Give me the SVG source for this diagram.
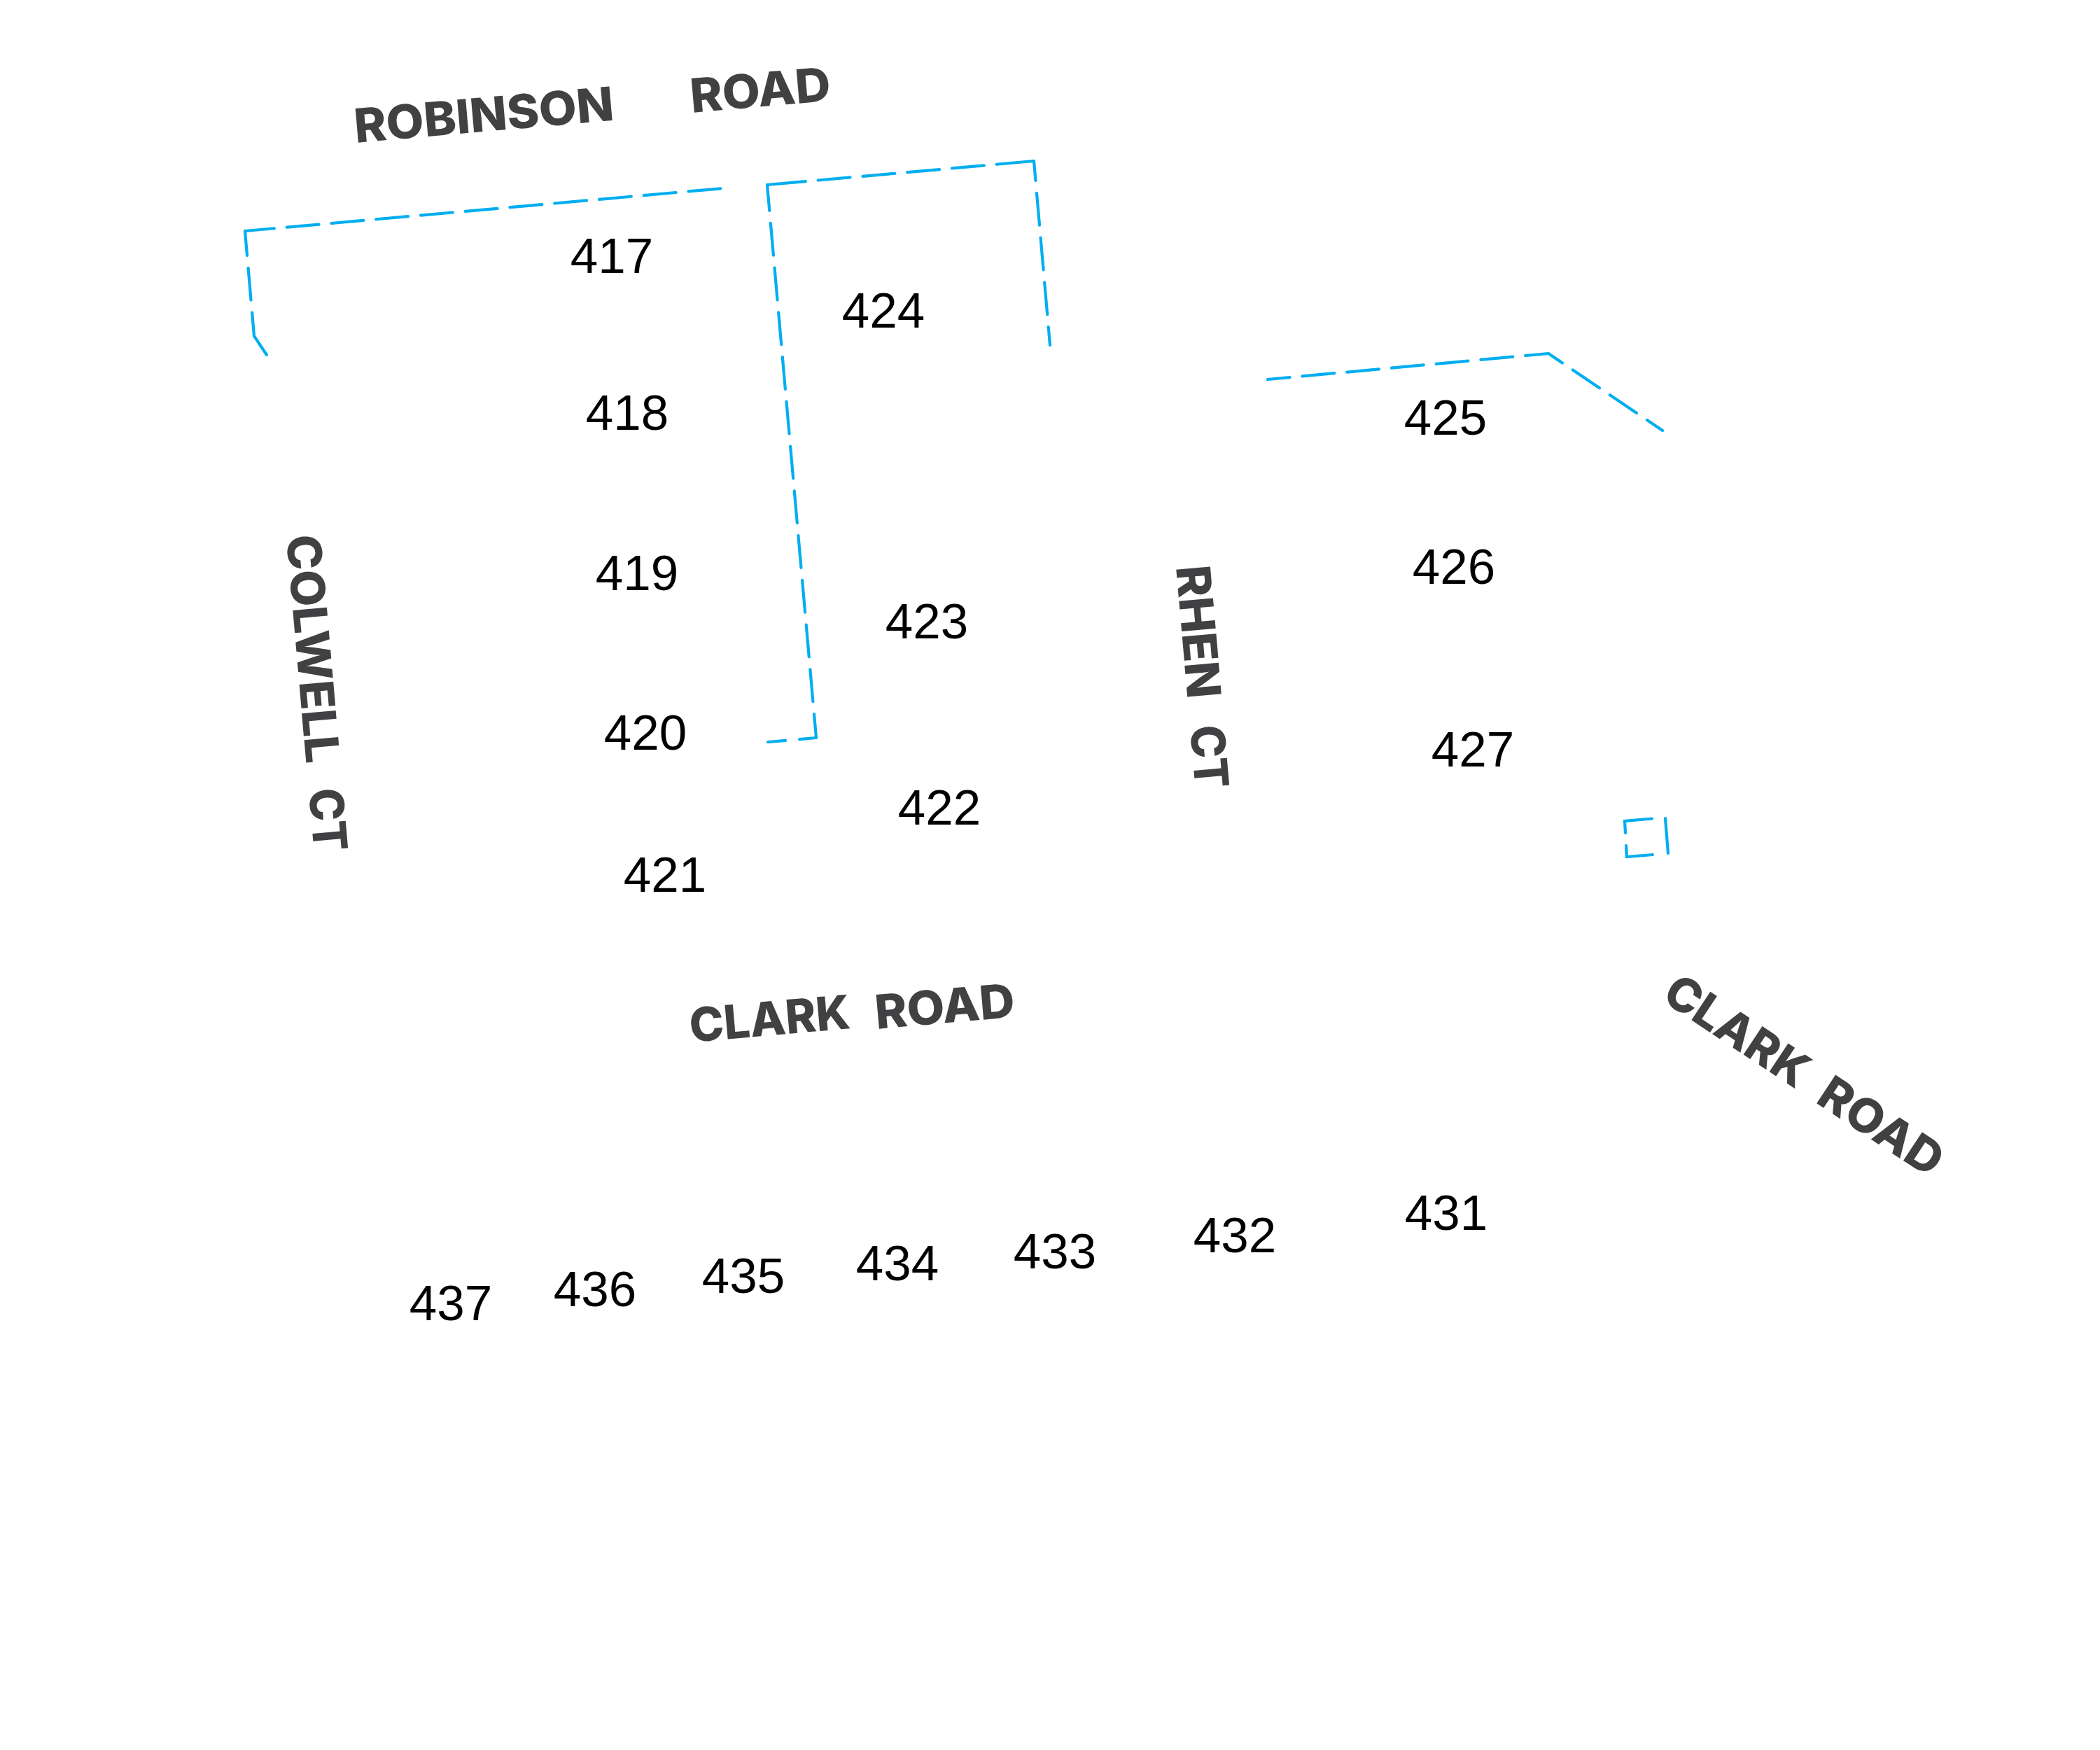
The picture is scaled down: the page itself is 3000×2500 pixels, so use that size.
<svg xmlns="http://www.w3.org/2000/svg" width="3000" height="2500" viewBox="0 0 3000 2500">
<style>
.lot{font-family:"Liberation Sans",Arial,sans-serif;font-size:71px;fill:#000;text-anchor:middle}
.road{font-family:Inter,"Liberation Sans",sans-serif;font-weight:800;font-size:67px;fill:#414042}
.l{fill:none;stroke:#00aeef;stroke-width:4.2;stroke-linecap:round;stroke-linejoin:miter}
</style>
<rect width="3000" height="2500" fill="#fff"/>
<g id="connectors">
<path class="l" stroke-dasharray="46 18" stroke-dashoffset="4" d="M350 330L1033 269"/>
<path class="l" stroke-dasharray="35 18 46 18 200" d="M350 330L363 480L381 507"/>
<path class="l" stroke-dasharray="55 18 46 18 46 18 46 18 46 18 55" d="M1096 264L1477 230"/>
<path class="l" stroke-dasharray="28 18 46 18 46 18 46 18 28" d="M1477 230L1500 493"/>
<path class="l" stroke-dasharray="46 18" stroke-dashoffset="9" d="M1096 264L1166 1054"/>
<path class="l" stroke-dasharray="24 20 26" d="M1166 1054L1097 1060"/>
<path class="l" stroke-dasharray="46 18" stroke-dashoffset="13" d="M2212 505L1811 542"/>
<path class="l" stroke-dasharray="46 18" stroke-dashoffset="22" d="M2212 505L2375 615"/>
<path class="l" d="M2360 1169.500L2321 1173L2322 1190M2323 1208L2324 1224L2361 1221M2379 1169L2383 1219"/>
</g>
<g id="lots">
<text id="lot-417" class="lot" x="874" y="390">417</text>
<text id="lot-418" class="lot" x="896" y="614">418</text>
<text id="lot-419" class="lot" x="910" y="843">419</text>
<text id="lot-420" class="lot" x="922" y="1071">420</text>
<text id="lot-421" class="lot" x="950" y="1274">421</text>
<text id="lot-422" class="lot" x="1342" y="1178">422</text>
<text id="lot-423" class="lot" x="1324" y="912">423</text>
<text id="lot-424" class="lot" x="1262" y="468">424</text>
<text id="lot-425" class="lot" x="2065" y="621">425</text>
<text id="lot-426" class="lot" x="2077" y="834">426</text>
<text id="lot-427" class="lot" x="2104" y="1095">427</text>
<text id="lot-431" class="lot" x="2066" y="1757">431</text>
<text id="lot-432" class="lot" x="1764" y="1789">432</text>
<text id="lot-433" class="lot" x="1507" y="1812">433</text>
<text id="lot-434" class="lot" x="1282" y="1829">434</text>
<text id="lot-435" class="lot" x="1062" y="1847">435</text>
<text id="lot-436" class="lot" x="850" y="1866">436</text>
<text id="lot-437" class="lot" x="644" y="1886">437</text>
</g>
<g id="roads">
<text class="road" transform="translate(508 204) rotate(-5)" textLength="372" lengthAdjust="spacingAndGlyphs">ROBINSON</text>
<text class="road" transform="translate(988 161) rotate(-5)" textLength="201" lengthAdjust="spacingAndGlyphs">ROAD</text>
<text class="road" transform="translate(987 1489) rotate(-5)" textLength="230" lengthAdjust="spacingAndGlyphs">CLARK</text>
<text class="road" transform="translate(1252 1470) rotate(-5)" textLength="200" lengthAdjust="spacingAndGlyphs">ROAD</text>
<text class="road" transform="translate(409 766) rotate(85)" textLength="327" lengthAdjust="spacingAndGlyphs">COLWELL</text>
<text class="road" transform="translate(441 1128) rotate(85)" textLength="90" lengthAdjust="spacingAndGlyphs">CT</text>
<text class="road" transform="translate(1680 810) rotate(85)" textLength="190" lengthAdjust="spacingAndGlyphs">RHEN</text>
<text class="road" transform="translate(1700 1038) rotate(85)" textLength="90" lengthAdjust="spacingAndGlyphs">CT</text>
<text class="road" transform="translate(2372 1428) rotate(33.500)" textLength="232" lengthAdjust="spacingAndGlyphs">CLARK</text>
<text class="road" transform="translate(2592 1574) rotate(33.500)" textLength="198" lengthAdjust="spacingAndGlyphs">ROAD</text>
</g>
</svg>
